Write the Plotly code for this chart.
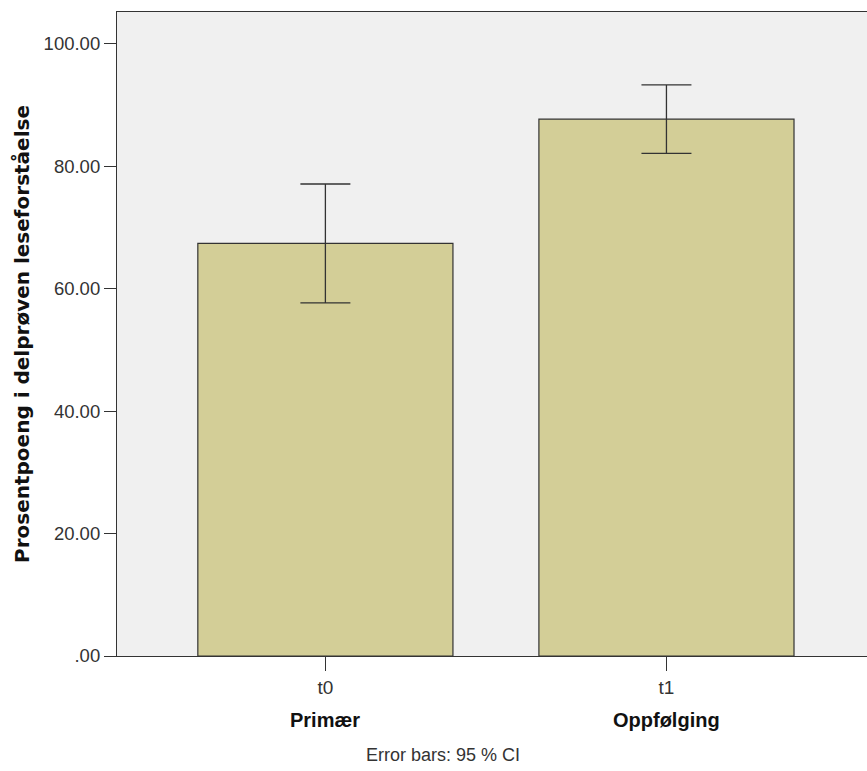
import plotly.graph_objects as go

# Data
categories = ["t0", "t1"]
group_labels = ["Primær", "Oppfølging"]
means = [67.4, 87.7]
ci_upper = [77.1, 93.3]
ci_lower = [57.7, 82.1]
y_tickvals = [0, 20, 40, 60, 80, 100]
y_ticktext = [".00", "20.00", "40.00", "60.00", "80.00", "100.00"]

x_pos = list(range(len(categories)))
err_plus = [u - m for u, m in zip(ci_upper, means)]
err_minus = [m - l for m, l in zip(means, ci_lower)]

NARROW = "Liberation Sans Narrow, Arial Narrow, Liberation Sans, sans-serif"
BOLD = "Liberation Sans, Arial, sans-serif"

fig = go.Figure()
fig.add_trace(go.Bar(
    x=x_pos, y=means, width=0.748,
    marker=dict(color="#D3CE97", line=dict(color="#333333", width=1.2)),
    error_y=dict(type="data", symmetric=False, array=err_plus, arrayminus=err_minus,
                 color="#333333", thickness=1.3, width=25),
    hoverinfo="skip",
))

for xp, lab in zip(x_pos, group_labels):
    fig.add_annotation(x=xp, xref="x", y=0, yref="paper", yshift=-64,
                       text="<b>" + lab + "</b>", showarrow=False,
                       font=dict(family=BOLD, size=20, color="#111111"),
                       yanchor="middle", xanchor="center")

fig.add_annotation(x=0.345, xref="x", y=0, yref="paper", yshift=-99,
                   text="Error bars: 95 % CI", showarrow=False,
                   font=dict(family=NARROW, size=18, color="#333333"),
                   yanchor="middle", xanchor="center")

fig.update_layout(
    width=867, height=771,
    margin=dict(l=117, r=0, t=12, b=115),
    paper_bgcolor="white", plot_bgcolor="#F0F0F0",
    showlegend=False,
    xaxis=dict(range=[-0.611, 1.588], tickvals=x_pos, ticktext=categories,
               ticks="outside", ticklen=14, tickcolor="#333333", tickwidth=1.2,
               showline=True, linecolor="#333333", linewidth=1.2, mirror=True,
               showgrid=False, zeroline=False,
               tickfont=dict(family=NARROW, size=19, color="#333333")),
    yaxis=dict(range=[0, 105.2], tickvals=y_tickvals, ticktext=y_ticktext,
               ticks="outside", ticklen=12, tickcolor="#333333", tickwidth=1.2,
               showline=True, linecolor="#333333", linewidth=1.2,
               showgrid=False, zeroline=False,
               tickfont=dict(family=NARROW, size=18.5, color="#333333"),
               title=dict(text="<b>Prosentpoeng i delprøven leseforståelse</b>",
                          font=dict(family="DejaVu Sans, Verdana, sans-serif", size=20, color="#111111"),
                          standoff=8)),
)

fig.write_html("out.html", config={"displayModeBar": False})
